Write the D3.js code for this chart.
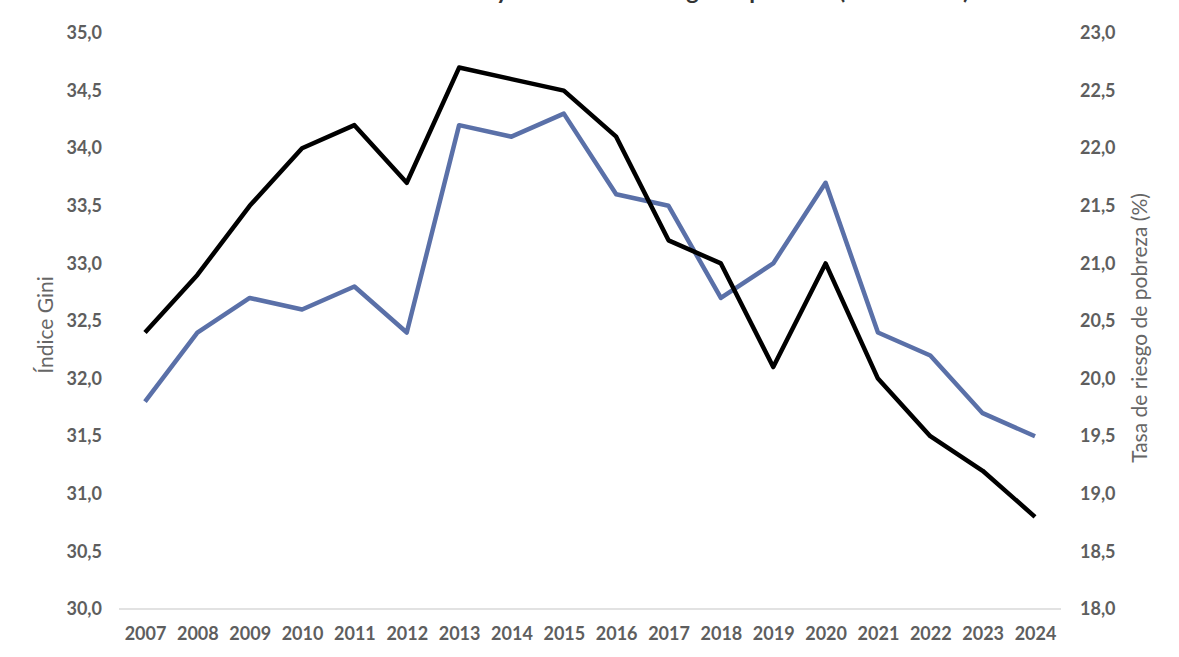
<!DOCTYPE html>
<html><head><meta charset="utf-8">
<script src="https://cdn.jsdelivr.net/npm/d3@7"></script>
<style>
html,body{margin:0;padding:0;background:#fff;}
svg{display:block;}
text{font-family:Lato,"Open Sans",sans-serif;}
</style></head>
<body><svg id="c" width="1179" height="657"></svg>
<script>
const years = [2007,2008,2009,2010,2011,2012,2013,2014,2015,2016,2017,2018,2019,2020,2021,2022,2023,2024];
const gini = [32.4,32.9,33.5,34.0,34.2,33.7,34.7,34.6,34.5,34.1,33.2,33.0,32.1,33.0,32.0,31.5,31.2,30.8];
const poverty = [19.8,20.4,20.7,20.6,20.8,20.4,22.2,22.1,22.3,21.6,21.5,20.7,21.0,21.7,20.4,20.2,19.7,19.5];
const leftTicks = [30,30.5,31,31.5,32,32.5,33,33.5,34,34.5,35];
const rightTicks = [18,18.5,19,19.5,20,20.5,21,21.5,22,22.5,23];
const title = "Evolución del índice de Gini y de la tasa de riesgo de pobreza (2007-2024)";
const leftLabel = "Índice Gini";
const rightLabel = "Tasa de riesgo de pobreza (%)";

const svg = d3.select("#c");
const plotTop = 33, plotBottom = 609;
const x = d3.scalePoint().domain(years).range([145, 1035]);
const yL = d3.scaleLinear().domain([30,35]).range([plotBottom, plotTop]);
const yR = d3.scaleLinear().domain([18,23]).range([plotBottom, plotTop]);
const fmt = v => d3.format(".1f")(v).replace(".", ",");
const tickColor = "#5e5e5e";
const FONT = 'Lato,"Open Sans",sans-serif';

// title (cut off at top in reference)
svg.append("text").attr("x", 587).attr("y", -1).attr("text-anchor","middle")
  .attr("font-size", 22).attr("font-weight", 700).attr("fill","#333").attr("font-family",FONT)
  .attr("textLength", 765).attr("lengthAdjust","spacingAndGlyphs").text(title);

// baseline axis
svg.append("line").attr("x1",119).attr("x2",1061).attr("y1",plotBottom).attr("y2",plotBottom)
  .attr("stroke","#d9d9d9").attr("stroke-width",1.5);

function styleTicks(g){
  g.select(".domain").remove();
  g.selectAll("text").attr("font-size",18).attr("font-weight",700).attr("fill",tickColor)
    .attr("font-family",FONT);
}

// left axis
svg.append("g").attr("transform","translate(102,0)")
  .call(d3.axisLeft(yL).tickValues(leftTicks).tickFormat(fmt).tickSize(0).tickPadding(0))
  .call(styleTicks);

// right axis
svg.append("g").attr("transform","translate(1080,0)")
  .call(d3.axisRight(yR).tickValues(rightTicks).tickFormat(fmt).tickSize(0).tickPadding(0))
  .call(styleTicks);

// x axis
svg.append("g").attr("transform",`translate(0,${plotBottom})`)
  .call(d3.axisBottom(x).tickSize(0).tickPadding(18))
  .call(styleTicks);

// axis titles
svg.append("text").attr("transform","translate(46,325) rotate(-90)").attr("text-anchor","middle")
  .attr("dy","0.35em").attr("font-size",21).attr("fill","#666").attr("font-family",FONT).text(leftLabel);
svg.append("text").attr("transform","translate(1140,328) rotate(-90)").attr("text-anchor","middle")
  .attr("dy","0.35em").attr("font-size",21).attr("fill","#666").attr("font-family",FONT).text(rightLabel);

// lines
const lineL = d3.line().x((d,i)=>x(years[i])).y(d=>yL(d));
const lineR = d3.line().x((d,i)=>x(years[i])).y(d=>yR(d));
svg.append("path").datum(poverty).attr("d",lineR).attr("fill","none")
  .attr("stroke","#5a70a8").attr("stroke-width",4.5).attr("stroke-linejoin","round");
svg.append("path").datum(gini).attr("d",lineL).attr("fill","none")
  .attr("stroke","#000").attr("stroke-width",4.5).attr("stroke-linejoin","round");
</script></body></html>
